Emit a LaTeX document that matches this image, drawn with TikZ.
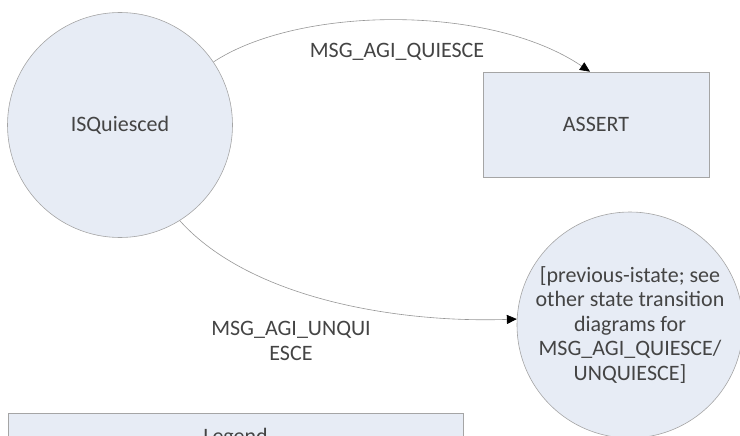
\documentclass[tikz,border=0pt]{standalone}
\usepackage{fontspec}
\setmainfont{Carlito}
\usetikzlibrary{arrows.meta}
\definecolor{statefill}{RGB}{231,236,245}
\definecolor{stateline}{RGB}{165,165,165}
\definecolor{statetext}{RGB}{68,68,68}
\definecolor{edgeline}{RGB}{150,150,150}
\begin{document}
\begin{tikzpicture}[x=1pt,y=-1pt,
    every node/.style={font=\fontsize{22}{24.5}\selectfont,text=statetext},
    state/.style={circle,draw=stateline,fill=statefill,line width=0.6pt,minimum size=225pt,inner sep=0pt,align=center},
    box/.style={rectangle,draw=stateline,fill=statefill,line width=0.6pt,inner sep=0pt},
    trans/.style={draw=edgeline,line width=0.6pt,-{Triangle[length=10pt,width=9pt,color=black]}}]
  \useasboundingbox (0,0) rectangle (740,436);
  \clip (0,0) rectangle (740,436);
  \draw
    (120,125) node[state] (isq) {ISQuiesced}
    (596,124.5) node[box,minimum width=226pt,minimum height=105pt] (assert) {ASSERT}
    (630,325) node[state,minimum size=226pt] (prev) {[previous-istate; see\\other state transition\\diagrams for\\MSG\_AGI\_QUIESCE/\\UNQUIESCE]}
    (235.5,450) node[box,minimum width=455pt,minimum height=74pt] (legend) {}
    ([yshift=-15pt]legend.north) node[anchor=north,inner sep=0pt] (legendtext) {Legend}
    (397,52) node (lblq) {MSG\_AGI\_QUIESCE}
    (291,341) node[align=center] (lblu) {MSG\_AGI\_UNQUI\\ESCE};
  \begin{scope}[trans]
    \draw (isq.34) .. controls +(85,-56) and +(-100,-68) .. ([xshift=-6pt]assert.north);
    \draw (isq.-58) .. controls +(71,79) and +(-117,4) .. (prev.177);
  \end{scope}
\end{tikzpicture}
\end{document}
